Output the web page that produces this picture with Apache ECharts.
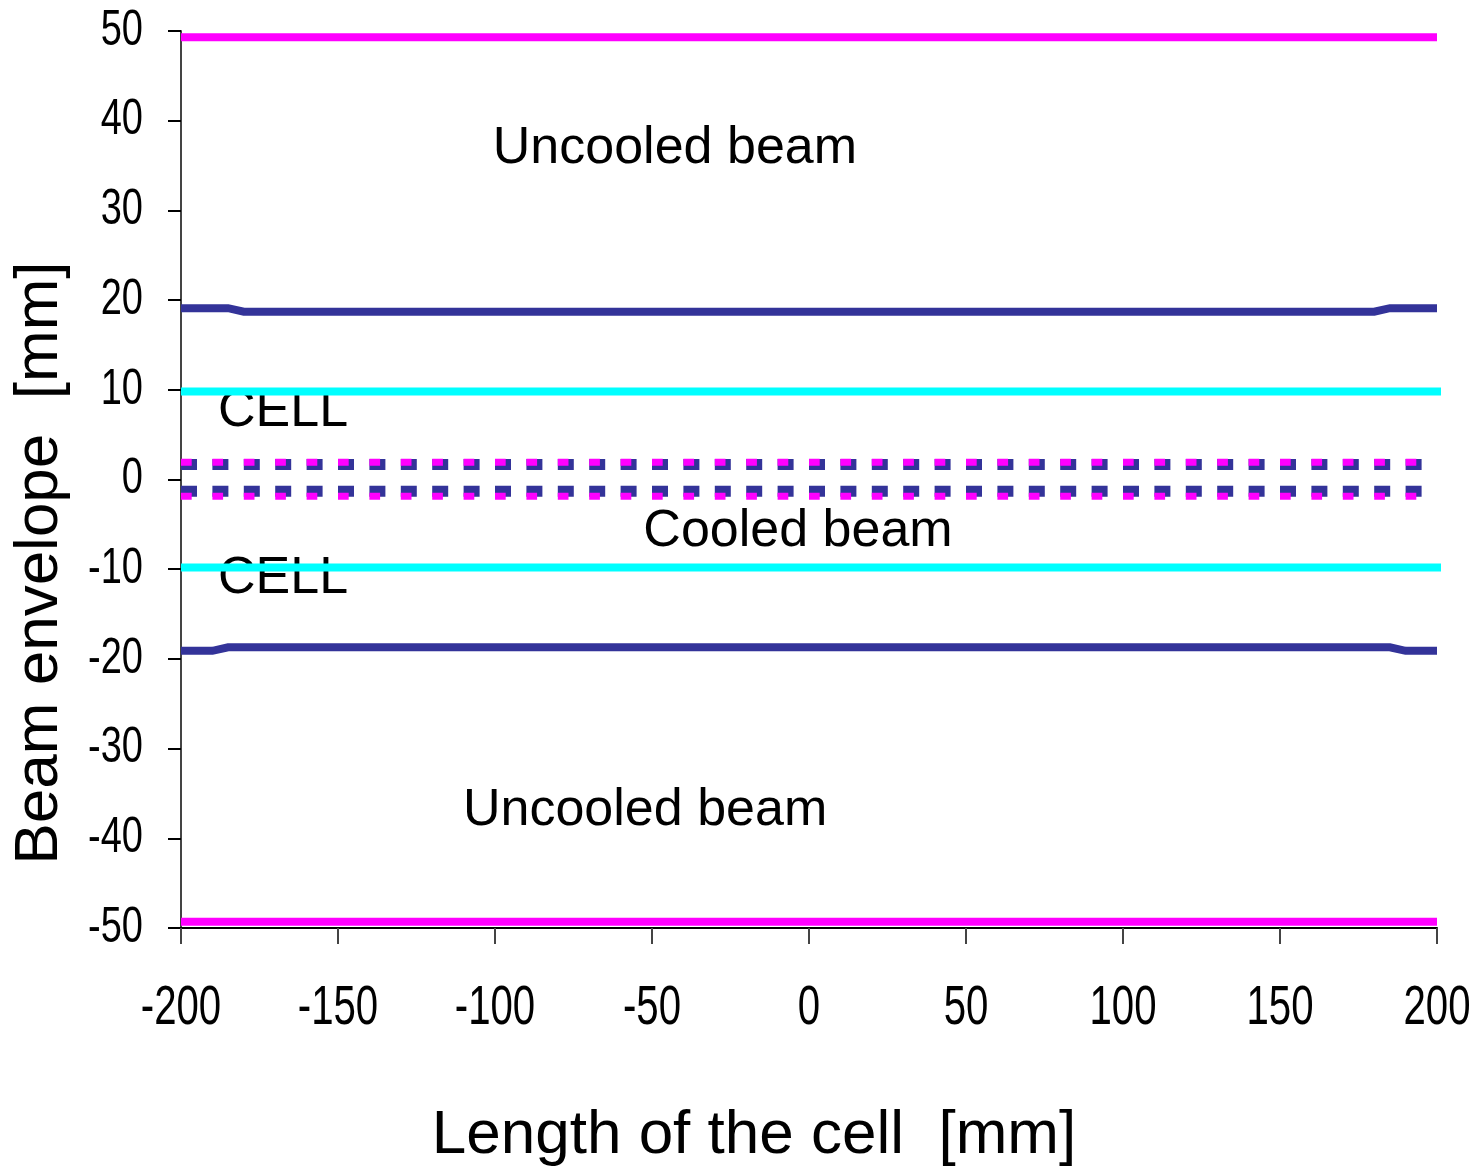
<!DOCTYPE html>
<html>
<head>
<meta charset="utf-8">
<script src="https://cdn.jsdelivr.net/npm/echarts@6/dist/echarts.min.js"></script>
<style>
  html, body { margin: 0; padding: 0; background: #fff; }
  #chart { width: 1483px; height: 1171px; }
</style>
</head>
<body>
<div id="chart"></div>
<script>
// Beam envelope along one cell, in mm
const xTicks = [-200, -150, -100, -50, 0, 50, 100, 150, 200];
const yTicks = [-50, -40, -30, -20, -10, 0, 10, 20, 30, 40, 50];

// Uncooled beam envelope (magenta, solid)
const uncooledTop = [[-200, 49.3], [200, 49.3]];
const uncooledBottom = [[-200, -49.3], [200, -49.3]];

// Upper / lower boundary (dark blue, solid)
const envTop = [[-200, 19.1], [-185, 19.1], [-180, 18.7], [180, 18.7], [185, 19.1], [200, 19.1]];
const envBottom = [[-200, -19.1], [-190, -19.1], [-185, -18.7], [185, -18.7], [190, -19.1], [200, -19.1]];

// Cell aperture (cyan)
const cellTop = [[-200, 9.8], [205, 9.8]];
const cellBottom = [[-200, -9.8], [205, -9.8]];

// Cooled beam envelope (dashed)
const cooledBlueTop = [[-200, 1.67], [200, 1.67]];
const cooledBlueBottom = [[-200, -1.31], [200, -1.31]];
const cooledMagentaTop = [[-200, 1.92], [200, 1.92]];
const cooledMagentaBottom = [[-200, -1.87], [200, -1.87]];

// Region labels
const labelNames = ['Uncooled beam', 'CELL', 'Cooled beam', 'CELL', 'Uncooled beam'];
const labelX = [-42.7, -167.5, -3.5, -167.5, -52.2];
const labelY = [36.9, 7.6, -5.85, -11.0, -36.9];

const xTitle = 'Length of the cell  [mm]';
const yTitle = 'Beam envelope  [mm]';

const MAGENTA = '#FF00FF';
const NAVY = '#333399';
const CYAN = '#00FFFF';
const SANS = '"Liberation Sans", Arial, sans-serif';

function solid(data, color, width, extra) {
  return Object.assign({
    type: 'line', data: data, symbol: 'none', silent: true,
    lineStyle: { color: color, width: width, cap: 'butt', join: 'miter' }
  }, extra || {});
}
function dashed(data, color, width, dash) {
  return {
    type: 'line', data: data, symbol: 'none', silent: true,
    lineStyle: { color: color, width: width, type: dash, cap: 'butt', dashOffset: 0 }
  };
}

const chart = echarts.init(document.getElementById('chart'), null, { renderer: 'canvas' });
chart.setOption({
  backgroundColor: '#fff',
  animation: false,
  grid: { left: 181, right: 46, top: 31, bottom: 243, containLabel: false, outerBoundsMode: 'none' },
  xAxis: {
    type: 'value', min: xTicks[0], max: xTicks[xTicks.length - 1], interval: 50,
    axisLine: { show: true, onZero: false, lineStyle: { color: '#000', width: 2 } },
    axisTick: { show: true, inside: false, length: 16, lineStyle: { color: '#444', width: 2 } },
    axisLabel: { show: false },
    splitLine: { show: false }
  },
  yAxis: {
    type: 'value', min: yTicks[0], max: yTicks[yTicks.length - 1], interval: 10,
    axisLine: { show: true, onZero: false, lineStyle: { color: '#444', width: 2 } },
    axisTick: { show: true, inside: false, length: 13, lineStyle: { color: '#000', width: 2 } },
    axisLabel: { show: false },
    splitLine: { show: false }
  },
  series: [
    solid(uncooledTop, MAGENTA, 8),
    solid(uncooledBottom, MAGENTA, 8),
    solid(envTop, NAVY, 8),
    solid(envBottom, NAVY, 8),
    solid(cellTop, CYAN, 8, { clip: false }),
    solid(cellBottom, CYAN, 8, { clip: false }),
    dashed(cooledBlueTop, NAVY, 11, [16, 15.4]),
    dashed(cooledBlueBottom, NAVY, 11, [16, 15.4]),
    dashed(cooledMagentaTop, MAGENTA, 7, [10.7, 20.7]),
    dashed(cooledMagentaBottom, MAGENTA, 7, [10.7, 20.7]),
    {
      type: 'scatter', silent: true, symbolSize: 0,
      itemStyle: { opacity: 1 },
      data: labelNames.map((n, i) => ({ name: n, value: [labelX[i], labelY[i]] })),
      label: {
        show: true, position: 'inside', formatter: '{b}', opacity: 1,
        fontFamily: SANS, fontSize: 52, color: '#000'
      }
    }
  ]
});

// Condensed tick labels, placed through the axes' own scales
const tickText = [];
xTicks.forEach(function (v) {
  const p = chart.convertToPixel({ gridIndex: 0 }, [v, yTicks[0]]);
  tickText.push({
    type: 'text', x: p[0], y: p[1] + 81, scaleX: 0.73, silent: true,
    style: { text: String(v), fontFamily: SANS, fontSize: 55, fill: '#000', align: 'center', verticalAlign: 'middle' }
  });
});
yTicks.forEach(function (v) {
  const p = chart.convertToPixel({ gridIndex: 0 }, [xTicks[0], v]);
  tickText.push({
    type: 'text', x: p[0] - 38, y: p[1], scaleX: 0.76, silent: true,
    style: { text: String(v), fontFamily: SANS, fontSize: 50, fill: '#000', align: 'right', verticalAlign: 'middle' }
  });
});

// Axis titles
tickText.push({
  type: 'text', x: 754, y: 1136, silent: true,
  style: { text: xTitle, fontFamily: SANS, fontSize: 62, fill: '#000', align: 'center', verticalAlign: 'middle' }
});
tickText.push({
  type: 'text', x: 40, y: 563, rotation: Math.PI / 2, silent: true,
  style: { text: yTitle, fontFamily: SANS, fontSize: 62, fill: '#000', align: 'center', verticalAlign: 'middle' }
});

chart.setOption({ graphic: { elements: tickText } });
</script>
</body>
</html>
